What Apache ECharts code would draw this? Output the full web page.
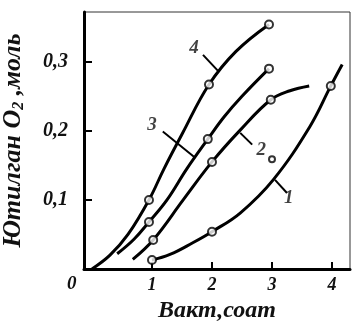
<!DOCTYPE html>
<html><head><meta charset="utf-8">
<script src="https://cdn.jsdelivr.net/npm/echarts@6/dist/echarts.min.js"></script>
<style>html,body{margin:0;padding:0;background:#fff}#c{width:352px;height:321px}</style>
</head><body><div id="c"></div>
<script>
// Curves (smooth line paths)
const curve1 = [[1.0,0.013],[1.3,0.021],[1.68,0.038],[2.0,0.054],[2.47,0.081],[3.02,0.129],[3.63,0.206],[3.98,0.265],[4.17,0.296]];
const curve2 = [[0.68,0.014],[1.02,0.042],[1.52,0.100],[2.0,0.155],[2.47,0.201],[2.98,0.245],[3.3,0.258],[3.62,0.265]];
const curve3 = [[0.42,0.022],[0.7,0.043],[0.95,0.068],[1.25,0.10],[1.58,0.145],[1.93,0.188],[2.2,0.22],[2.5,0.25],[2.95,0.29]];
const curve4 = [[0,0],[0.3,0.02],[0.6,0.05],[0.95,0.10],[1.2,0.145],[1.5,0.195],[1.95,0.267],[2.4,0.315],[2.95,0.354]];
// Measured points (open circles)
const points1 = [[1.0,0.013],[2.0,0.054],[3.98,0.265]];
const points2 = [[1.02,0.042],[2.0,0.155],[2.98,0.245]];
const points3 = [[0.95,0.068],[1.93,0.188],[2.95,0.29]];
const points4 = [[0.95,0.10],[1.95,0.267],[2.95,0.354]];
const extraPoint = [[3.0,0.159]];
// Curve labels and leader lines
const curveLabels = [["1",3.28,0.103],["2",2.82,0.172],["3",1.0,0.209],["4",1.7,0.32]];
const leaders = [
  [[3.05,0.129],[3.25,0.11]],
  [[2.47,0.197],[2.67,0.18]],
  [[1.18,0.199],[1.72,0.161]],
  [[1.85,0.31],[2.12,0.285]]
];
const xTicks = [1,2,3,4];
const yTicks = [0.1,0.2,0.3];
const xTitle = "Вакт,соат";
const yTitleA = "Ютилган O";
const yTitleSub = "2";
const yTitleB = " ,моль";

const F = "'Liberation Serif','DejaVu Serif',serif";
const txt = {fontFamily:F, fontStyle:'italic', fontWeight:'bold', color:'#111'};

const series = [];
[curve1,curve2,curve3,curve4].forEach(c=>{
  series.push({type:'line', data:c, smooth:0.4, showSymbol:false, symbol:'none',
    lineStyle:{color:'#000', width:3}, z:2, silent:true});
});
leaders.forEach(l=>{
  series.push({type:'line', data:l, showSymbol:false, symbol:'none',
    lineStyle:{color:'#000', width:2}, z:2, silent:true});
});
[points1,points2,points3,points4].forEach(p=>{
  series.push({type:'scatter', data:p, symbol:'circle', symbolSize:8,
    itemStyle:{color:'#fff', borderColor:'#000', borderWidth:2}, z:5});
});
series.push({type:'scatter', data:extraPoint, symbol:'circle', symbolSize:6,
  itemStyle:{color:'#fff', borderColor:'#000', borderWidth:2}, z:5});
series.push({type:'scatter', data:curveLabels.map(d=>({name:d[0], value:[d[1],d[2]]})),
  symbolSize:0, label:{show:true, position:'inside', formatter:'{b}', fontSize:19, ...txt}, z:6});

const option = {
  animation:false,
  grid:{left:84, right:2, top:12, bottom:52, show:true, borderColor:'#333', borderWidth:1, outerBoundsMode:'none'},
  xAxis:{type:'value', min:-0.133, max:4.3,
    axisLine:{show:true, onZero:false, lineStyle:{color:'#000', width:3}},
    axisTick:{show:true, inside:true, length:7, customValues:xTicks, lineStyle:{color:'#000', width:2}},
    axisLabel:{show:true, customValues:xTicks, margin:7, fontSize:18, ...txt},
    splitLine:{show:false},
    name:xTitle, nameLocation:'middle', nameGap:30, nameTextStyle:{fontSize:24, ...txt}
  },
  yAxis:{type:'value', min:0, max:0.372,
    axisLine:{show:true, onZero:false, lineStyle:{color:'#000', width:3}},
    axisTick:{show:true, inside:true, length:8, customValues:yTicks, lineStyle:{color:'#000', width:2}},
    axisLabel:{show:true, customValues:yTicks, margin:16, fontSize:20, ...txt,
      formatter:v=>v.toFixed(1).replace('.',',')},
    splitLine:{show:false},
    name:'{a|'+yTitleA+'}{s|'+yTitleSub+'}{a|'+yTitleB+'}', nameLocation:'middle', nameGap:57,
    nameTextStyle:{...txt, fontSize:26, rich:{
      a:{...txt, fontSize:26},
      s:{...txt, fontSize:16, padding:[12,0,0,0]}
    }}
  },
  graphic:[{type:'text', left:67, top:275, style:{text:'0', font:"italic bold 19px 'Liberation Serif'", fill:'#111'}}],
  series
};
const chart = echarts.init(document.getElementById('c'), null, {renderer:'canvas'});
chart.setOption(option);
</script></body></html>
